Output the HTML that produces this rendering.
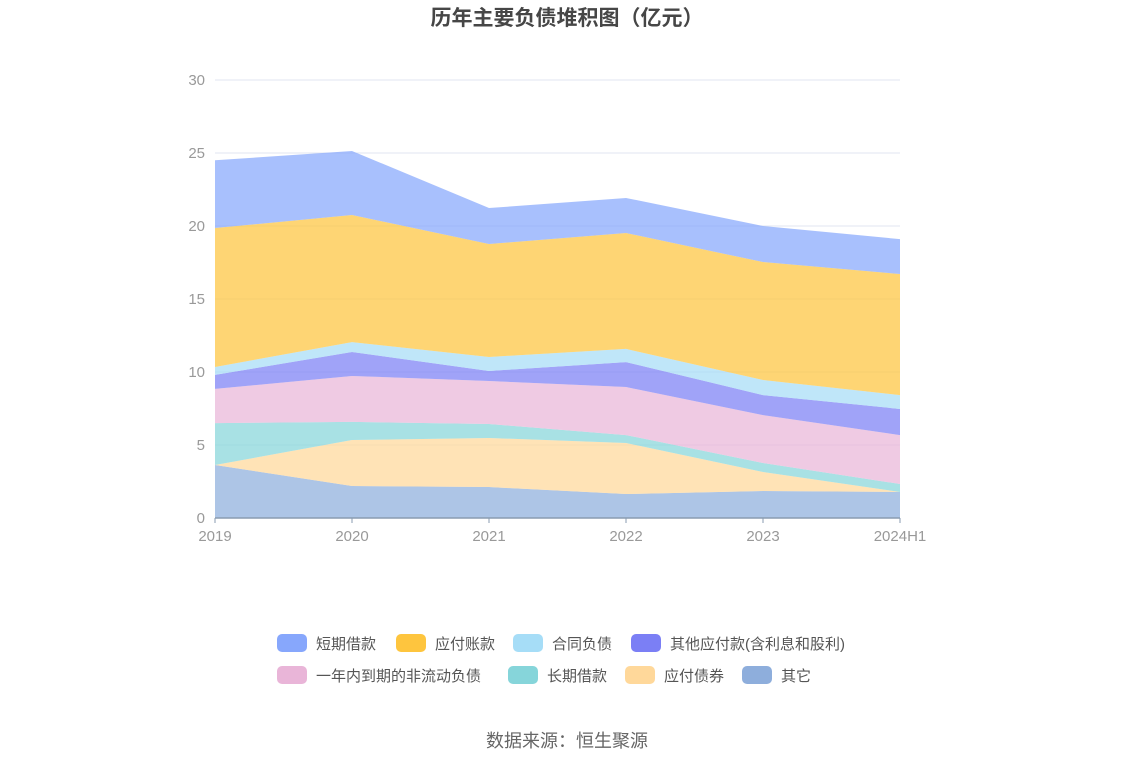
<!DOCTYPE html>
<html><head><meta charset="utf-8"><style>
body{margin:0;width:1134px;height:766px;background:#fff;font-family:"Liberation Sans","Noto Sans CJK SC",sans-serif;overflow:hidden}
</style></head><body>
<svg id="c" width="1134" height="766" xmlns="http://www.w3.org/2000/svg" style="font-family:'Liberation Sans','Noto Sans CJK SC',sans-serif">
<text x="567" y="25" text-anchor="middle" font-size="21" font-weight="bold" fill="#464646">历年主要负债堆积图（亿元）</text>
<g id="grid"></g><g id="areas"></g><g id="axes"></g><g id="legend"></g>
<text x="567" y="747" text-anchor="middle" font-size="18" fill="#666">数据来源：恒生聚源</text>
</svg>
<script>
const categories=["2019","2020","2021","2022","2023","2024H1"];
const yTicks=[0,5,10,15,20,25,30];
const seriesNames=["其它","应付债券","长期借款","一年内到期的非流动负债","其他应付款(含利息和股利)","合同负债","应付账款","短期借款"];
const sOther=[3.63,2.19,2.12,1.64,1.85,1.78];
const sBonds=[0,3.15,3.36,3.50,1.30,0];
const sLongLoan=[2.87,1.24,0.96,0.54,0.62,0.55];
const sCurrentNonCur=[2.34,3.15,2.94,3.29,3.28,3.35];
const sOtherPay=[0.96,1.64,0.69,1.71,1.37,1.79];
const sContract=[0.54,0.68,0.96,0.90,1.03,0.95];
const sPayable=[9.52,8.70,7.74,7.94,8.08,8.29];
const sShortLoan=[4.64,4.39,2.46,2.40,2.47,2.39];
const series=[sOther,sBonds,sLongLoan,sCurrentNonCur,sOtherPay,sContract,sPayable,sShortLoan];
const colors=["#8eaedc","#ffd89a","#86d5da","#e9b5d8","#7b7ff5","#a6ddf7","#fec53e","#87a7fc"];
const ids=["other","bonds","long-loan","current-noncurrent","other-payable","contract","payable","short-loan"];
const X0=215,X1=900,Y0=518,Y1=80,YMAX=30;
const xS=i=>X0+(X1-X0)*i/(categories.length-1);
const yS=v=>Y0-(Y0-Y1)*v/YMAX;
const NS="http://www.w3.org/2000/svg";
function mk(t,a,p){const e=document.createElementNS(NS,t);for(const k in a)e.setAttribute(k,a[k]);p.appendChild(e);return e;}
const grid=document.getElementById('grid'),areas=document.getElementById('areas'),axes=document.getElementById('axes'),legend=document.getElementById('legend');
yTicks.forEach(t=>{
 if(t>0){const l=mk('line',{x1:X0,x2:X1,y1:yS(t),y2:yS(t),stroke:'#e0e6f1'},grid);
 
 }
 const tx=mk('text',{x:205,y:yS(t)+5,'text-anchor':'end','font-size':15,fill:'#999'},axes);tx.textContent=t;
 
 
});
let base=categories.map(()=>0);
series.forEach((s,k)=>{
 const top=base.map((b,i)=>b+s[i]);
 let d=top.map((v,i)=>(i?'L':'M')+xS(i)+','+yS(v)).join('');
 for(let i=base.length-1;i>=0;i--)d+='L'+xS(i)+','+yS(base[i]);
 const p=mk('path',{d:d+'Z',fill:colors[k],'fill-opacity':0.72,stroke:'none'},areas);
 
 
 base=top;
});
const ax=mk('line',{x1:X0,x2:X1,y1:Y0,y2:Y0,stroke:'#8a9bb0','stroke-width':1.5},axes);


categories.forEach((c,i)=>{
 mk('line',{x1:xS(i),x2:xS(i),y1:Y0,y2:Y0+5,stroke:'#8a9bb0'},axes);
 const t=mk('text',{x:xS(i),y:541,'text-anchor':'middle','font-size':15,fill:'#999'},axes);t.textContent=c;
 
 
});
const legendOrder=[7,6,5,4,3,2,1,0];
const lx=[277,396,513,631,277,508,625,742],ly=[643,643,643,643,675,675,675,675];
legendOrder.forEach((k,j)=>{
 const g=mk('g',{},legend);
 
 
 mk('rect',{x:lx[j],y:ly[j]-9,width:30,height:18,rx:5,fill:colors[k]},g);
 const t=mk('text',{x:lx[j]+39,y:ly[j]+6,'font-size':15,fill:'#555'},g);t.textContent=seriesNames[k];
});
</script>
</body></html>
